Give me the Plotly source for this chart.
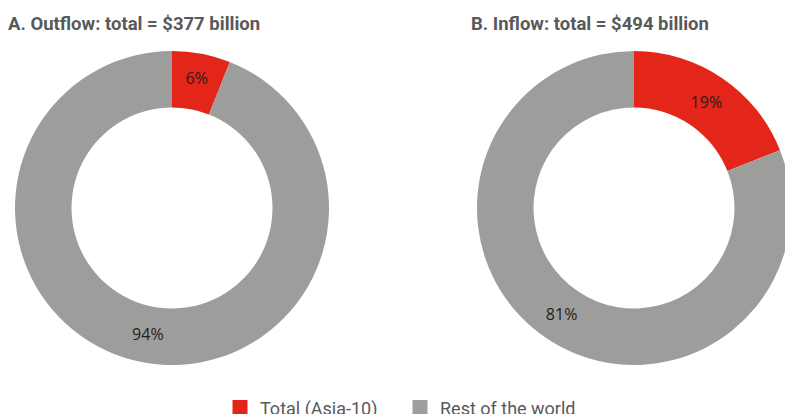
import plotly.graph_objects as go

categories = ["Total (Asia-10)", "Rest of the world"]
outflow_values = [6, 94]
inflow_values = [19, 81]
titles = ["A. Outflow: total = $377 billion", "B. Inflow: total = $494 billion"]
colors = ["#E32619", "#9D9D9C"]

W, H = 795, 414
R = 157

def dom(cx, cy):
    return dict(x=[(cx - R) / W, (cx + R) / W], y=[(H - cy - R) / H, (H - cy + R) / H])

fig = go.Figure()
common = dict(labels=categories, hole=0.64, sort=False, direction="clockwise", rotation=0,
              marker=dict(colors=colors, line=dict(width=0)),
              textinfo="percent", textposition="inside", insidetextorientation="horizontal",
              textfont=dict(family="Open Sans", size=16, color="#231F20"),
              hoverinfo="label+percent", showlegend=False)
fig.add_trace(go.Pie(values=outflow_values, domain=dom(172, 208), **common))
fig.add_trace(go.Pie(values=inflow_values, domain=dom(634, 208), **common))

# legend entries (square swatches)
for name, c in zip(categories, colors):
    fig.add_trace(go.Scatter(x=[None], y=[None], mode="markers", name=name,
                             marker=dict(symbol="square", size=15, color=c), showlegend=True,
                             hoverinfo="skip"))

for t, x in zip(titles, [6, 469]):
    fig.add_annotation(text="<b>" + t + "</b>", x=x / W, y=(H - 24) / H, xref="paper", yref="paper",
                       xanchor="left", yanchor="middle", showarrow=False,
                       font=dict(family="Roboto", size=18.5, color="#58595B"))

fig.update_layout(width=W, height=H, margin=dict(l=0, r=0, t=0, b=0, autoexpand=False),
                  paper_bgcolor="white", plot_bgcolor="white",
                  xaxis=dict(visible=False), yaxis=dict(visible=False),
                  legend=dict(orientation="h", x=220 / W, xanchor="left", y=-0.03, yanchor="bottom",
                              font=dict(family="Roboto", size=18, color="#58595B"),
                              itemwidth=30, itemsizing="trace", traceorder="normal",
                              entrywidth=135, entrywidthmode="pixels"))

post = ("document.documentElement.style.overflow='hidden';"
        "document.body.style.overflow='hidden';document.body.style.margin='0';")
fig.write_html("out.html", post_script=post, config={"displayModeBar": False})
